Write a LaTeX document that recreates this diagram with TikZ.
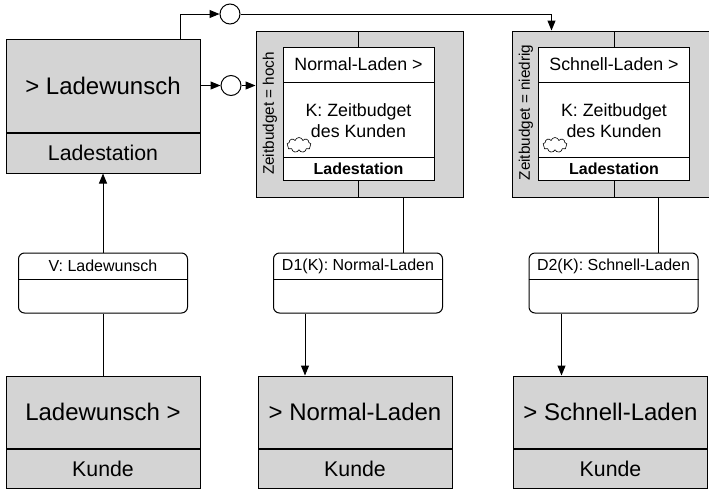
\documentclass[tikz,border=0pt]{standalone}
\usepackage{fontspec}
\setmainfont{Liberation Sans}
\usetikzlibrary{arrows.meta,positioning,shapes.symbols}
\definecolor{boxgray}{RGB}{212,212,212}
\tikzset{
  rolebox/.style={draw, fill=boxgray, minimum width=194pt, minimum height=93pt,
    inner sep=0pt, font=\fontsize{24}{28}\selectfont},
  rolelabel/.style={draw, fill=boxgray, minimum width=194pt, minimum height=40pt,
    inner sep=0pt, font=\fontsize{21.3}{25}\selectfont},
  groupbox/.style={draw, fill=boxgray, minimum height=166pt, inner sep=0pt},
  innerbox/.style={draw, fill=white, minimum width=151pt, minimum height=133pt, inner sep=0pt},
  innertitle/.style={draw, minimum width=151pt, minimum height=35pt, inner sep=0pt,
    font=\fontsize{17.8}{21}\selectfont},
  innertext/.style={align=center, minimum height=75pt, inner sep=0pt,
    font=\fontsize{17.8}{21}\selectfont},
  innerfoot/.style={draw, minimum width=151pt, minimum height=23pt, inner sep=0pt,
    font=\fontsize{16}{19}\selectfont\bfseries},
  condlabel/.style={rotate=90, inner sep=0pt, font=\fontsize{15.3}{18}\selectfont},
  msgbox/.style={draw, rounded corners=6pt, fill=white, minimum width=169pt,
    minimum height=60pt, inner sep=0pt},
  msgtitle/.style={minimum width=169pt, minimum height=26pt, inner sep=0pt,
    font=\fontsize{16}{19}\selectfont},
  junction/.style={draw, circle, fill=white, minimum size=20pt, inner sep=0pt},
  cloudmark/.style={draw, cloud, cloud puffs=9, fill=white, minimum width=24pt,
    minimum height=15pt, inner sep=0pt, line width=0.6pt},
  flowarrow/.style={-{Triangle[length=10pt,width=8pt]}}
}
\begin{document}
\begin{tikzpicture}[x=1pt, y=-1pt, line width=1pt]
  \useasboundingbox (0,0) rectangle (709,488);
  % Ladestation
  \node[rolebox] (ladw) at (103,85.5) {> Ladewunsch};
  \node[rolelabel, below=0pt of ladw] (lst) {Ladestation};
  % Kunden
  \node[rolebox, minimum height=72pt] (kw) at (103,412) {Ladewunsch >};
  \node[rolelabel, minimum height=39pt, below=0pt of kw] (kwl) {Kunde};
  \node[rolebox, minimum height=72pt] (nl) at (355,412) {> Normal-Laden};
  \node[rolelabel, minimum height=39pt, below=0pt of nl] (nll) {Kunde};
  \node[rolebox, minimum height=72pt] (sl) at (610.5,412) {> Schnell-Laden};
  \node[rolelabel, minimum height=39pt, below=0pt of sl] (sll) {Kunde};
  % group: Zeitbudget = hoch
  \node[groupbox, minimum width=207pt] (grpA) at (359.5,114) {};
  \node[innerbox] (inA) at (358.5,113.5) {};
  \node[innertitle, below=0pt of inA.north] (tA) {Normal-Laden >};
  \node[innerfoot, above=0pt of inA.south] (fA) {Ladestation};
  \node[innertext, below=0pt of tA] (kA) {K: Zeitbudget\\des Kunden};
  \node[cloudmark] (cA) at (299,145) {};
  \node[condlabel] (zA) at (270,113.5) {Zeitbudget = hoch};
  \draw (inA.north) -- (inA.north |- grpA.north);
  \draw (inA.south) -- (inA.south |- grpA.south);
  % group: Zeitbudget = niedrig
  \node[groupbox, minimum width=206pt] (grpB) at (615,114) {};
  \node[innerbox] (inB) at (614,113.5) {};
  \node[innertitle, below=0pt of inB.north] (tB) {Schnell-Laden >};
  \node[innerfoot, above=0pt of inB.south] (fB) {Ladestation};
  \node[innertext, below=0pt of tB] (kB) {K: Zeitbudget\\des Kunden};
  \node[cloudmark] (cB) at (555,145) {};
  \node[condlabel] (zB) at (526,112.5) {Zeitbudget = niedrig};
  \draw (inB.north) -- (inB.north |- grpB.north);
  \draw (inB.south) -- (inB.south |- grpB.south);
  % Nachrichten
  \node[msgbox] (v) at (103,283) {};
  \node[msgtitle, below=0pt of v.north] (vt) {V: Ladewunsch};
  \draw (vt.south west) -- (vt.south east);
  \node[msgbox] (d1) at (358,283) {};
  \node[msgtitle, below=0pt of d1.north] (d1t) {D1(K): Normal-Laden};
  \draw (d1t.south west) -- (d1t.south east);
  \node[msgbox] (d2) at (613.5,283) {};
  \node[msgtitle, below=0pt of d2.north] (d2t) {D2(K): Schnell-Laden};
  \draw (d2t.south west) -- (d2t.south east);
  % Verzweigung
  \node[junction, right=20pt of ladw] (c2) {};
  \node[junction] (c1) at (230,14) {};
  % Verbindungen
  \draw (kw.north) -- (v.south);
  \draw[flowarrow] (v.north) -- (lst.south);
  \draw[flowarrow] ([xshift=77pt]ladw.north) |- (c1);
  \draw[flowarrow] (c1) -| ([xshift=40pt]grpB.north west);
  \draw[flowarrow] (ladw) -- (c2);
  \draw[flowarrow] (c2) -- (c2 -| grpA.west);
  \draw ([xshift=45pt]d1.north) -- ([xshift=45pt]d1.north |- grpA.south);
  \draw[flowarrow] ([xshift=-53pt]d1.south) -- ([xshift=-53pt]d1.south |- nl.north);
  \draw ([xshift=45pt]d2.north) -- ([xshift=45pt]d2.north |- grpB.south);
  \draw[flowarrow] ([xshift=-52pt]d2.south) -- ([xshift=-52pt]d2.south |- sl.north);
\end{tikzpicture}
\end{document}
